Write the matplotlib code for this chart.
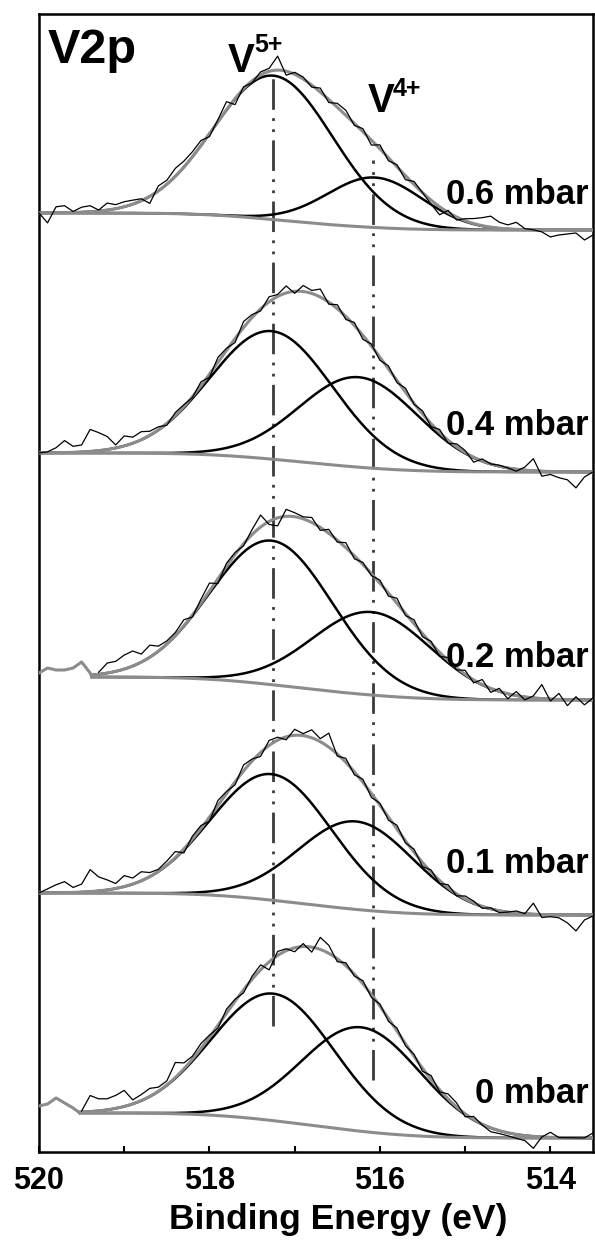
import numpy as np
import matplotlib.pyplot as plt

plt.rcParams['font.family'] = ['Liberation Sans', 'DejaVu Sans']
plt.rcParams['font.weight'] = 'bold'

# energies of the measured points (eV)
energy = np.round(np.arange(520.0, 513.45, -0.1), 1)

labels = ["0.6 mbar", "0.4 mbar", "0.2 mbar", "0.1 mbar", "0 mbar"]

# Shirley background ends (offset intensity, a.u.) and start of the fit window
bg_left = [939, 699, 475, 259, 39]
bg_right = [922, 680, 452, 237, 14]
fit_start = [520.0, 520.0, 519.38, 520.0, 519.52]

# V5+ component
v5_center = [517.25, 517.27, 517.27, 517.27, 517.25]
v5_height = [144, 128, 144, 126, 127]
v5_sigma = [0.70, 0.72, 0.72, 0.71, 0.72]
# V4+ component
v4_center = [516.06, 516.25, 516.10, 516.28, 516.22]
v4_height = [50, 90, 83, 88, 104]
v4_sigma = [0.56, 0.70, 0.70, 0.68, 0.70]

# measured spectra, given as deviation from the fit envelope
noise_06 = [0, -10, 6, 7, 1, 5, 6, 1, 7, 4, 5, 4, 2, -7, 5, 4, 8, 6, 5, 5, -3, 2,
            8, -6, 2, -2, 3, 3, 14, -4, 2, 2, -2, 4, -3, 4, 5, -2, 3, -5, 4, -3, 2,
            -4, 3, 0, -4, -8, 2, -3, 2, 5, 8, 11, 6, 4, 7, 1, 0, -2, -7, -5, -4,
            -3, -10, -5]
noise_04 = [0, 1, 5, 12, 6, 7, 22, 18, 13, 3, 10, 6, 8, 4, 3, -2, 3, 2, -1, 4, -3,
            5, 2, -4, 6, 3, -2, 5, 2, 7, -2, 6, 3, 8, -2, 4, -3, 3, -4, 2, -3, 3,
            -2, 4, -1, 3, -3, 3, -3, 3, 2, -5, 2, 0, 1, 0, -2, 3, 12, -5, -3, -6,
            -8, -16, -5, 0]
noise_02 = [4, 9, 7, 7, 9, 15, 4, 2, 10, 10, 14, 15, 8, 12, 5, 3, 3, 6, -2, 4, 8,
            -5, 3, 2, -2, 5, 12, -3, -8, 7, 4, 2, 5, -3, 4, -2, 5, -3, 2, -2, 3,
            -3, 5, -2, 4, -3, 2, -4, 3, -2, 4, -3, 5, -4, 3, -5, 4, -3, 2, 14, -2,
            6, -6, 3, -5, 2]
noise_01 = [0, 4, 8, 11, 5, 8, 22, 14, 10, 5, 11, 6, 9, 4, 2, 4, 6, -4, 3, 3, -4,
            5, 2, -3, 6, 2, -4, 5, 3, -3, 6, 2, 8, 3, 14, -2, 4, -3, 3, -4, 2, -3,
            4, -2, 3, -4, 2, -3, 3, -2, 3, 2, -2, 1, -2, 0, 2, 0, 11, -3, -2, -3,
            -8, -16, -5, -1]
noise_0 = [7, 9, 15, 10, 5, 1, 16, 12, 11, 13, 16, 4, 6, 8, 4, 4, 15, 6, 3, 5, 2,
           -3, 4, 2, -3, 3, 5, -8, 4, 2, -4, 3, -5, 12, 8, -3, 3, -2, 3, -3, 2,
           -3, 3, -2, 2, -3, 4, -2, 5, 4, -3, 3, -1, -4, -3, -3, -4, -5, -12, 0,
           5, 0, 0, 0, 0, 5]
noise = [noise_06, noise_04, noise_02, noise_01, noise_0]

# peak positions marked by the dashed lines
v5_line = 517.25
v4_line = 516.08


def gauss(e, c, h, s):
    return h * np.exp(-(e - c) ** 2 / (2 * s ** 2))


def shirley(e, peaks, left, right):
    # area on the low binding energy side of each point
    area = np.cumsum(peaks[::-1])[::-1]
    return right + (left - right) * area / area[0]


fig = plt.figure(figsize=(5.95, 12.43), dpi=100)
ax = fig.add_axes([39 / 595, 91 / 1243, 554 / 595, 1138 / 1243])

grey = '#8c8c8c'
for i in range(5):
    e = np.linspace(fit_start[i], 513.5, 400)
    p5 = gauss(e, v5_center[i], v5_height[i], v5_sigma[i])
    p4 = gauss(e, v4_center[i], v4_height[i], v4_sigma[i])
    bg = shirley(e, p5 + p4, bg_left[i], bg_right[i])

    ax.plot(e, bg + p5, color='black', lw=1.8, zorder=2)
    ax.plot(e, bg + p4, color='black', lw=1.8, zorder=2)
    ax.plot(e, bg, color=grey, lw=2.2, zorder=3)
    ax.plot(e, bg + p5 + p4, color=grey, lw=2.2, zorder=3)

    # measured data = envelope + deviation
    env = np.interp(energy[::-1], e[::-1], (bg + p5 + p4)[::-1])[::-1]
    env[energy > fit_start[i]] = bg_left[i]
    raw = env + np.array(noise[i])
    inside = energy <= fit_start[i]
    if fit_start[i] < 520.0:
        # part outside the fit window is drawn grey
        ax.plot(np.append(energy[~inside], fit_start[i]),
                np.append(raw[~inside], bg[0]), color=grey, lw=2.2, zorder=3)
    ax.plot(energy[inside], raw[inside], color='black', lw=0.9, zorder=4)

label_y = [948, 717, 485, 279, 49]
for lab, y in zip(labels, label_y):
    ax.text(513.55, y, lab, ha='right', va='baseline', fontsize=25,
            fontweight='bold', zorder=5)

ax.plot([v5_line, v5_line], [126, 1079], color='#3a3a3a', lw=2.0,
        ls=(0, (11, 3, 1, 3, 1, 3)), zorder=1)
ax.plot([v4_line, v4_line], [72, 992], color='#3a3a3a', lw=2.0,
        ls=(0, (11, 3, 1, 3, 1, 3)), zorder=1)

ax.text(519.9, 1089, "V2p", fontsize=35, fontweight='bold', va='baseline')
ax.text(517.78, 1080, "V", fontsize=29, fontweight='bold', va='baseline')
ax.text(517.47, 1100, "5+", fontsize=18, fontweight='bold', va='baseline')
ax.text(516.14, 1040, "V", fontsize=29, fontweight='bold', va='baseline')
ax.text(515.85, 1056, "4+", fontsize=18, fontweight='bold', va='baseline')

ax.set_xlim(520, 513.5)
ax.set_ylim(0, 1138)
ax.set_xticks([520, 518, 516, 514])
ax.set_xticks([519, 517, 515], minor=True)
ax.set_yticks([])
ax.tick_params(axis='x', which='both', direction='in', length=4.5, width=1.5,
               labelsize=22, pad=10)
for s in ax.spines.values():
    s.set_linewidth(1.8)
ax.set_xlabel("Binding Energy (eV)", fontsize=25.5, fontweight='bold')
ax.xaxis.set_label_coords(0.54, -0.045)

plt.savefig("out.png", dpi=100)
